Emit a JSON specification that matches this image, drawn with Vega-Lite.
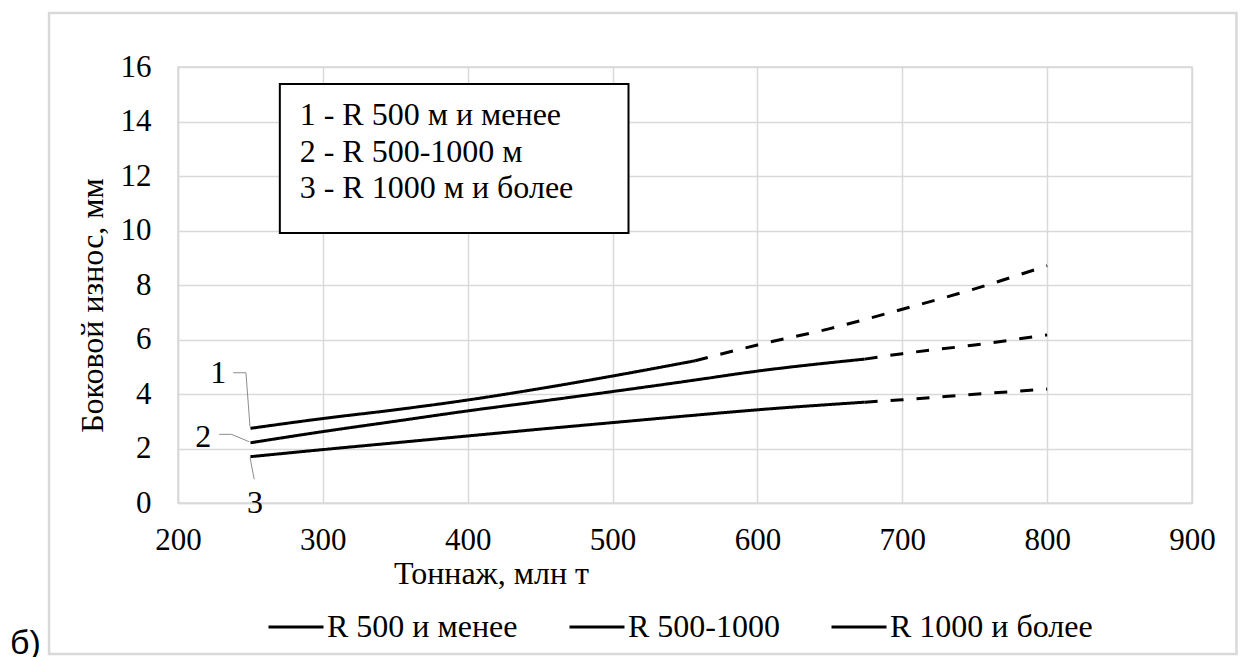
{
  "$schema": "https://vega.github.io/schema/vega-lite/v6.json",
  "width": 1014,
  "height": 436,
  "autosize": "none",
  "padding": {"left": 178, "top": 67, "right": 49, "bottom": 154},
  "background": "white",
  "config": {
    "font": "Liberation Serif, Times New Roman, serif",
    "view": {"stroke": "#d9d9d9", "strokeWidth": 1.5},
    "axis": {"grid": true, "gridColor": "#d9d9d9", "gridWidth": 1.5, "ticks": false, "domainColor": "#d9d9d9", "domainWidth": 1.5, "labelFlush": false, "labelFont": "Liberation Serif, Times New Roman, serif", "labelFontSize": 31, "labelColor": "black", "titleFont": "Liberation Serif, Times New Roman, serif", "titleFontSize": 32, "titleFontWeight": "normal", "titleColor": "black"}
  },
  "datasets": {
    "curves": [
      {"s": "R 500 и менее", "seg": "solid", "t": 250, "w": 2.74},
      {"s": "R 500 и менее", "seg": "solid", "t": 300, "w": 3.1},
      {"s": "R 500 и менее", "seg": "solid", "t": 350, "w": 3.42},
      {"s": "R 500 и менее", "seg": "solid", "t": 400, "w": 3.78},
      {"s": "R 500 и менее", "seg": "solid", "t": 450, "w": 4.2},
      {"s": "R 500 и менее", "seg": "solid", "t": 500, "w": 4.66},
      {"s": "R 500 и менее", "seg": "solid", "t": 557, "w": 5.22},
      {"s": "R 500 и менее", "seg": "dashed", "t": 557, "w": 5.22},
      {"s": "R 500 и менее", "seg": "dashed", "t": 600, "w": 5.8},
      {"s": "R 500 и менее", "seg": "dashed", "t": 650, "w": 6.4},
      {"s": "R 500 и менее", "seg": "dashed", "t": 700, "w": 7.11},
      {"s": "R 500 и менее", "seg": "dashed", "t": 750, "w": 7.86},
      {"s": "R 500 и менее", "seg": "dashed", "t": 800, "w": 8.71},
      {"s": "R 500-1000", "seg": "solid", "t": 250, "w": 2.21},
      {"s": "R 500-1000", "seg": "solid", "t": 300, "w": 2.62},
      {"s": "R 500-1000", "seg": "solid", "t": 350, "w": 3.0},
      {"s": "R 500-1000", "seg": "solid", "t": 400, "w": 3.38},
      {"s": "R 500-1000", "seg": "solid", "t": 450, "w": 3.73},
      {"s": "R 500-1000", "seg": "solid", "t": 500, "w": 4.09},
      {"s": "R 500-1000", "seg": "solid", "t": 550, "w": 4.46},
      {"s": "R 500-1000", "seg": "solid", "t": 600, "w": 4.84},
      {"s": "R 500-1000", "seg": "solid", "t": 674, "w": 5.28},
      {"s": "R 500-1000", "seg": "dashed", "t": 674, "w": 5.28},
      {"s": "R 500-1000", "seg": "dashed", "t": 700, "w": 5.48},
      {"s": "R 500-1000", "seg": "dashed", "t": 750, "w": 5.8},
      {"s": "R 500-1000", "seg": "dashed", "t": 800, "w": 6.17},
      {"s": "R 1000 и более", "seg": "solid", "t": 250, "w": 1.7},
      {"s": "R 1000 и более", "seg": "solid", "t": 300, "w": 1.96},
      {"s": "R 1000 и более", "seg": "solid", "t": 350, "w": 2.21},
      {"s": "R 1000 и более", "seg": "solid", "t": 400, "w": 2.46},
      {"s": "R 1000 и более", "seg": "solid", "t": 450, "w": 2.71},
      {"s": "R 1000 и более", "seg": "solid", "t": 500, "w": 2.95},
      {"s": "R 1000 и более", "seg": "solid", "t": 550, "w": 3.19},
      {"s": "R 1000 и более", "seg": "solid", "t": 600, "w": 3.42},
      {"s": "R 1000 и более", "seg": "solid", "t": 674, "w": 3.7},
      {"s": "R 1000 и более", "seg": "dashed", "t": 674, "w": 3.7},
      {"s": "R 1000 и более", "seg": "dashed", "t": 700, "w": 3.79},
      {"s": "R 1000 и более", "seg": "dashed", "t": 750, "w": 3.99},
      {"s": "R 1000 и более", "seg": "dashed", "t": 800, "w": 4.18}
    ],
    "leaders": [
      {"k": "1", "t": 238.1, "w": 4.78},
      {"k": "1", "t": 246.9, "w": 4.78},
      {"k": "1", "t": 249.7, "w": 2.8},
      {"k": "2", "t": 228.5, "w": 2.52},
      {"k": "2", "t": 237.0, "w": 2.52},
      {"k": "2", "t": 249.0, "w": 2.25},
      {"k": "3", "t": 249.7, "w": 1.68},
      {"k": "3", "t": 252.6, "w": 0.87}
    ],
    "labels": [
      {"k": "1", "t": 227.8, "w": 4.78},
      {"k": "2", "t": 217.4, "w": 2.43},
      {"k": "3", "t": 253.1, "w": 0.0}
    ]
  },
  "layer": [
    {
      "data": {"name": "curves"},
      "mark": {"type": "line", "strokeWidth": 3, "interpolate": "monotone", "strokeCap": "butt"},
      "encoding": {
        "x": {
          "field": "t", "type": "quantitative",
          "scale": {"domain": [200, 900], "nice": false, "zero": false},
          "axis": {
            "title": "Тоннаж, млн т",
            "values": [200, 300, 400, 500, 600, 700, 800, 900],
            "labelPadding": 22,
            "titleX": 313, "titleY": 70, "titleBaseline": "middle", "titleAlign": "center"
          }
        },
        "y": {
          "field": "w", "type": "quantitative",
          "scale": {"domain": [0, 16], "nice": false},
          "axis": {
            "title": "Боковой износ, мм",
            "values": [0, 2, 4, 6, 8, 10, 12, 14, 16],
            "labelPadding": 27,
            "titleX": -86, "titleY": 238, "titleBaseline": "middle", "titleAlign": "center", "titleAngle": 270
          }
        },
        "color": {
          "field": "s", "type": "nominal",
          "scale": {"domain": ["R 500 и менее", "R 500-1000", "R 1000 и более"], "range": ["black", "black", "black"]},
          "legend": {
            "orient": "none", "legendX": 89, "legendY": 531, "direction": "horizontal", "title": null,
            "symbolType": "stroke", "symbolSize": 3025, "symbolStrokeWidth": 3,
            "labelFont": "Liberation Serif, Times New Roman, serif", "labelFontSize": 32, "labelColor": "black", "labelLimit": 400,
            "columnPadding": 45, "labelOffset": 2
          }
        },
        "strokeDash": {
          "field": "seg", "type": "nominal",
          "scale": {"domain": ["solid", "dashed"], "range": [[1, 0], [13, 13]]},
          "legend": null
        }
      }
    },
    {
      "data": {"values": [{}]},
      "mark": {"type": "rect", "filled": false, "stroke": "#d9d9d9", "strokeWidth": 2.5, "clip": false},
      "encoding": {
        "x": {"datum": 111.0, "type": "quantitative", "scale": {"domain": [200, 900], "nice": false, "zero": false}},
        "x2": {"datum": 930.7},
        "y": {"datum": 17.98, "type": "quantitative", "scale": {"domain": [0, 16], "nice": false}},
        "y2": {"datum": -5.54}
      }
    },
    {
      "data": {"values": [{}]},
      "mark": {"type": "rect", "fill": "white", "stroke": "black", "strokeWidth": 2, "clip": false},
      "encoding": {
        "x": {"datum": 270.3, "type": "quantitative", "scale": {"domain": [200, 900], "nice": false, "zero": false}},
        "x2": {"datum": 511},
        "y": {"datum": 15.38, "type": "quantitative", "scale": {"domain": [0, 16], "nice": false}},
        "y2": {"datum": 9.91}
      }
    },
    {
      "data": {"values": [{}]},
      "mark": {"type": "text", "align": "left", "baseline": "middle", "font": "Liberation Serif, Times New Roman, serif", "fontSize": 32, "lineHeight": 36.7, "color": "black", "clip": false},
      "encoding": {
        "x": {"datum": 284, "type": "quantitative", "scale": {"domain": [200, 900], "nice": false, "zero": false}},
        "y": {"datum": 14.24, "type": "quantitative", "scale": {"domain": [0, 16], "nice": false}},
        "text": {"value": ["1 - R 500  м и менее", "2 - R 500-1000  м", "3 - R 1000 м и более"]}
      }
    },
    {
      "data": {"name": "leaders"},
      "mark": {"type": "line", "color": "#8c8c8c", "strokeWidth": 1, "clip": false},
      "encoding": {
        "x": {"field": "t", "type": "quantitative", "scale": {"domain": [200, 900], "nice": false, "zero": false}},
        "y": {"field": "w", "type": "quantitative", "scale": {"domain": [0, 16], "nice": false}},
        "detail": {"field": "k"}
      }
    },
    {
      "data": {"name": "labels"},
      "mark": {"type": "text", "align": "center", "baseline": "middle", "font": "Liberation Serif, Times New Roman, serif", "fontSize": 32, "color": "black", "clip": false},
      "encoding": {
        "x": {"field": "t", "type": "quantitative", "scale": {"domain": [200, 900], "nice": false, "zero": false}},
        "y": {"field": "w", "type": "quantitative", "scale": {"domain": [0, 16], "nice": false}},
        "text": {"field": "k"}
      }
    },
    {
      "data": {"values": [{}]},
      "mark": {"type": "text", "align": "left", "baseline": "alphabetic", "font": "Liberation Sans", "fontSize": 34, "color": "black", "clip": false},
      "encoding": {
        "x": {"datum": 84.1, "type": "quantitative", "scale": {"domain": [200, 900], "nice": false, "zero": false}},
        "y": {"datum": -5.54, "type": "quantitative", "scale": {"domain": [0, 16], "nice": false}},
        "text": {"value": "б)"}
      }
    }
  ]
}
